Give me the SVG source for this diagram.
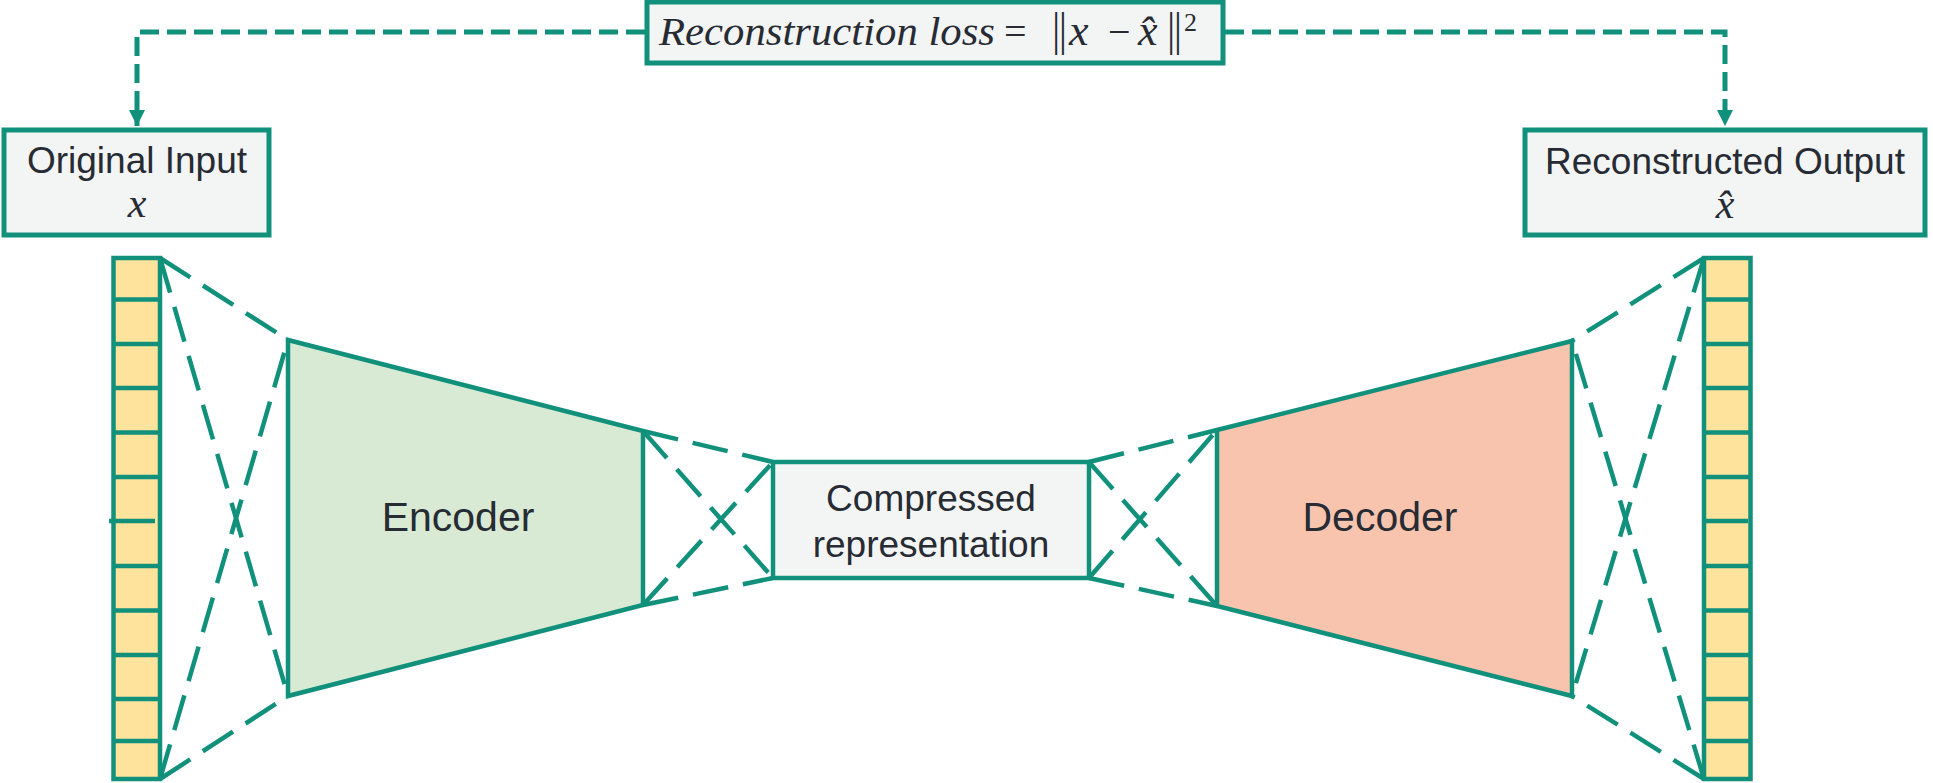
<svg xmlns="http://www.w3.org/2000/svg" width="1933" height="783" viewBox="0 0 1933 783">
<defs>
<style>
.box{fill:#f3f4f4;stroke:#11917b;stroke-width:5}
.lbl{font-family:"Liberation Sans",Arial,sans-serif;fill:#272b33;text-anchor:middle}
.math{font-family:"Liberation Serif","Times New Roman",serif;fill:#272b33}
.it{font-style:italic}
.bar{font-family:"DejaVu Sans",sans-serif;font-weight:200}
.cell{fill:#fde39c;stroke:#11917b;stroke-width:4.5}
.sep{stroke:#11917b;stroke-width:4.5}
.dash{fill:none;stroke:#11917b;stroke-width:4.5;stroke-dasharray:36 15}
.loss{fill:none;stroke:#11917b;stroke-width:5;stroke-dasharray:19 8}
</style>
<marker id="arr" markerUnits="userSpaceOnUse" markerWidth="16" markerHeight="16" viewBox="0 0 14 14" refX="14" refY="7" orient="auto">
<path d="M0,0 L14,7 L0,14 z" fill="#11917b"/>
</marker>
</defs>
<rect width="1933" height="783" fill="#ffffff"/>

<g id="connectors">
<path class="loss" d="M645,32 H137 V126" marker-end="url(#arr)"/>
<path class="loss" d="M1225,32 H1725 V126" marker-end="url(#arr)"/>
<line class="dash" x1="160" y1="258" x2="288" y2="340"/>
<line class="dash" x1="160" y1="258" x2="288" y2="696"/>
<line class="dash" x1="160" y1="779" x2="288" y2="340"/>
<line class="dash" x1="160" y1="779" x2="288" y2="696"/>
<line class="dash" x1="643" y1="431" x2="773" y2="462"/>
<line class="dash" x1="643" y1="431" x2="773" y2="578"/>
<line class="dash" x1="643" y1="605" x2="773" y2="462"/>
<line class="dash" x1="643" y1="605" x2="773" y2="578"/>
<line class="dash" x1="1089" y1="462" x2="1217" y2="430"/>
<line class="dash" x1="1089" y1="462" x2="1217" y2="606"/>
<line class="dash" x1="1089" y1="578" x2="1217" y2="430"/>
<line class="dash" x1="1089" y1="578" x2="1217" y2="606"/>
<line class="dash" x1="1704" y1="258" x2="1572" y2="341"/>
<line class="dash" x1="1704" y1="258" x2="1572" y2="696"/>
<line class="dash" x1="1704" y1="779" x2="1572" y2="341"/>
<line class="dash" x1="1704" y1="779" x2="1572" y2="696"/>
</g>

<g id="loss-box">
<rect class="box" x="647" y="2" width="576" height="61"/>
<text class="math" y="45" font-size="40">
<tspan x="659" class="it" textLength="336" lengthAdjust="spacingAndGlyphs">Reconstruction loss</tspan><tspan x="1004">=</tspan><tspan x="1049" class="bar" font-size="42">‖</tspan><tspan x="1069" class="it" font-size="44">x</tspan><tspan x="1108">−</tspan><tspan x="1138" class="it" font-size="44">x̂</tspan><tspan x="1164" class="bar" font-size="42">‖</tspan><tspan x="1184" y="31" font-size="26">2</tspan>
</text>
</g>

<g id="original-input">
<rect class="box" x="4" y="130" width="265" height="105"/>
<text class="lbl" x="137" y="173" font-size="37">Original Input</text>
<text class="math it" x="137" y="217" font-size="42" text-anchor="middle">x</text>
</g>

<g id="reconstructed-output">
<rect class="box" x="1525" y="130" width="400" height="105"/>
<text class="lbl" x="1725" y="174" font-size="37">Reconstructed Output</text>
<text class="math it" x="1725" y="218" font-size="42" text-anchor="middle">x̂</text>
</g>

<g id="input-vector">
<rect class="cell" x="113.5" y="258" width="46.5" height="521"/>
<path class="sep" d="M113.5,299.5H160M113.5,344H160M113.5,388H160M113.5,432.5H160M113.5,477H160M109,521H155M113.5,566H160M113.5,610.5H160M113.5,655H160M113.5,699H160M113.5,741H160"/>
</g>

<g id="encoder">
<polygon points="288,340 643,431 643,605 288,696" fill="#d8ead3" stroke="#11917b" stroke-width="4.5"/>
<text class="lbl" x="458" y="531" font-size="41">Encoder</text>
</g>

<g id="compressed">
<rect class="box" x="773" y="462" width="316" height="116" style="stroke-width:4.5"/>
<text class="lbl" x="931" y="511" font-size="37">Compressed</text>
<text class="lbl" x="931" y="557" font-size="37">representation</text>
</g>

<g id="decoder">
<polygon points="1217,430 1572,341 1572,696 1217,606" fill="#f9c4ae" stroke="#11917b" stroke-width="4.5"/>
<text class="lbl" x="1380" y="531" font-size="41">Decoder</text>
</g>

<g id="output-vector">
<rect class="cell" x="1704" y="258" width="46.5" height="521"/>
<path class="sep" d="M1704,299.5H1750.5M1704,344H1750.5M1704,388H1750.5M1704,432.5H1750.5M1704,477H1750.5M1702,521H1748M1704,566H1750.5M1704,610.5H1750.5M1704,655H1750.5M1704,699H1750.5M1704,741H1750.5"/>
</g>
</svg>
